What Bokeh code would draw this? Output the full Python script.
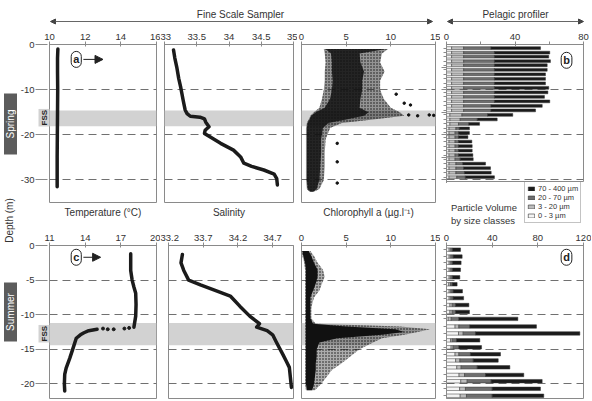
import math
from bokeh.plotting import figure
from bokeh.layouts import row, column
from bokeh.models import (Range1d, FixedTicker, CustomJSTickFormatter, Label, Title,
                          BoxAnnotation, Arrow, NormalHead, Legend, LegendItem,
                          ColumnDataSource, LinearAxis)
from bokeh.embed import file_html
from bokeh.resources import INLINE

NAN = float("nan")
FONT = "Liberation Sans"
TXT = "#333333"
AXC = "#8a8a8a"
DARK = "#1b1b1b"
BAND = "#d2d2d2"
BAR_COLORS = ["#f4f4f4", "#bdbdbd", "#6e6e6e", "#1b1b1b"]
SIZE_CLASSES = ["0 - 3 µm", "3 - 20 µm", "20 - 70 µm", "70 - 400 µm"]

# ---------------- Spring : Fine Scale Sampler ----------------
spring_temp_depth = [-1.0, -3.0, -6.0, -10.0, -15.0, -20.0, -25.0, -31.5]
spring_temp = [10.47, 10.45, 10.45, 10.46, 10.45, 10.44, 10.43, 10.43]

spring_sal_depth = [-1.2, -3.0, -5.0, -7.5, -9.4, -12.4, -14.5, -15.3, -15.9, -16.1, -16.5,
                    -17.2, -18.2, -19.0, -19.7, -20.5, -21.9, -23.4, -24.9, -26.3, -27.0,
                    -27.8, -28.7, -29.7, -31.1]
spring_sal = [33.14, 33.16, 33.19, 33.22, 33.25, 33.29, 33.32, 33.35, 33.40, 33.55, 33.62,
              33.64, 33.69, 33.63, 33.62, 33.71, 33.87, 34.07, 34.18, 34.23, 34.35,
              34.54, 34.70, 34.74, 34.75]

spring_chl_depth = [-1.0, -2.0, -4.0, -6.0, -8.0, -10.0, -12.0, -14.0, -15.0, -15.8, -16.6,
                    -17.4, -18.5, -21.0, -24.0, -27.0, -30.0, -32.0, -32.6]
spring_chl_outer_lo = [2.5, 2.6, 2.7, 2.6, 2.6, 2.5, 2.3, 2.0, 1.4, 1.0, 0.8, 0.6, 0.5, 0.5,
                       0.5, 0.5, 0.5, 0.6, 0.9]
spring_chl_outer_hi = [9.7, 9.0, 8.8, 9.3, 8.8, 8.8, 9.2, 10.0, 11.0, 11.5, 8.0, 4.5, 3.2, 2.7,
                       2.6, 2.6, 2.5, 2.0, 1.4]
spring_chl_core_lo = [2.7, 3.3, 3.4, 3.4, 3.5, 3.4, 3.2, 2.6, 1.6, 1.1, 0.9, 0.7, 0.6, 0.6,
                      0.6, 0.6, 0.6, 0.7, 1.0]
spring_chl_core_hi = [9.5, 6.5, 6.6, 7.0, 6.8, 6.8, 6.6, 6.5, 7.5, 7.0, 5.0, 3.0, 2.4, 2.2,
                      2.2, 2.1, 2.0, 1.7, 1.3]
spring_chl_out_x = [10.6, 11.5, 12.2, 12.0, 13.0, 14.3, 14.8, 4.0, 4.0, 4.0]
spring_chl_out_y = [-11.0, -13.0, -13.4, -15.6, -15.8, -15.6, -15.7, -21.9, -26.0, -30.7]

# ---------------- Spring : Pelagic profiler ----------------
spring_bar_depth = [-0.8, -1.8, -2.7, -3.7, -4.6, -5.6, -6.6, -7.6, -8.6, -9.6, -10.6, -11.6,
                    -12.6, -13.6, -14.6, -15.6, -16.6, -17.6, -18.6, -19.6, -20.5, -21.5,
                    -22.5, -23.5, -24.5, -25.4, -26.4, -27.4, -28.4, -29.4]
spring_0_3 = [3, 3, 3, 3, 3, 3, 3, 3, 3, 3, 3, 3, 3, 3, 3, 2, 2, 2, 1.5, 1.5, 1.5, 1.5, 1.5,
              1.5, 1.5, 1.5, 1.5, 1.5, 1.5, 1.5]
spring_3_20 = [7, 7, 7, 7, 7, 7, 7, 7, 7, 7, 7, 7, 7, 7, 7, 7, 6, 5, 4, 3.5, 3.5, 3.5, 3.5,
               3.5, 3.5, 3.5, 4, 4, 4, 4.5]
spring_20_70 = [16, 18, 18, 18, 18, 18, 18, 18, 18, 18, 18, 18, 18, 16, 16, 15, 10, 6, 2, 2,
                2, 2, 2, 2, 2, 3, 4, 4.5, 5, 5]
spring_70_400 = [28.9, 32.3, 31.7, 32.7, 30.8, 30.8, 29.8, 29.8, 29.8, 31.7, 31.2, 29.2, 32.3,
                 29.9, 26.0, 14.7, 11.6, 6.3, 5.9, 6.4, 5.5, 7.8, 8.0, 8.0, 8.4, 7.6, 13.3,
                 15.7, 15.6, 17.0]

# ---------------- Summer : Fine Scale Sampler ----------------
summer_temp_depth = [-1.2, -3.6, -5.0, -6.0, -6.9, -8.5, -10.2, -11.8, NAN, -12.1, -12.3,
                     -12.6, -12.9, -13.4, -14.9, -16.3, -17.7, -18.6, -20.0, -21.0]
summer_temp = [17.83, 17.83, 17.95, 18.1, 18.25, 18.28, 18.25, 18.1, NAN, 15.0, 14.3, 13.9,
               13.6, 13.25, 12.97, 12.7, 12.4, 12.28, 12.25, 12.28]
summer_temp_dot_depth = [-11.9, -12.0, -12.1, -12.1, -12.0]
summer_temp_dot = [17.7, 17.3, 16.4, 15.9, 15.5]

summer_sal_depth = [-1.3, -2.5, -3.6, -5.0, -5.7, -6.6, -7.3, -8.8, -10.2, -11.3, -11.8,
                    -12.3, -12.9, -13.9, -15.8, -16.8, -17.6, -20.5]
summer_sal = [33.40, 33.38, 33.42, 33.49, 33.66, 33.90, 34.09, 34.23, 34.37, 34.51, 34.47,
              34.62, 34.70, 34.75, 34.85, 34.90, 34.94, 34.97]

summer_chl_depth = [-0.8, -1.5, -2.5, -3.5, -4.5, -5.5, -6.5, -7.5, -9.0, -10.5, -11.3, -11.7,
                    -12.1, -12.5, -12.9, -13.4, -14.0, -15.0, -16.0, -17.0, -18.0, -19.0,
                    -20.0, -20.9]
summer_chl_outer_lo = [0.0, 0.1, 0.3, 0.4, 0.4, 0.4, 0.4, 0.4, 0.4, 0.4, 0.4, 0.4, 0.4, 0.4,
                       0.4, 0.4, 0.4, 0.4, 0.4, 0.4, 0.4, 0.4, 0.4, 0.5]
summer_chl_outer_hi = [1.0, 1.4, 1.8, 2.4, 2.6, 2.3, 2.0, 1.4, 1.1, 1.1, 1.6, 11.0, 14.4, 13.0,
                       11.5, 9.0, 8.0, 6.5, 5.5, 4.5, 3.4, 2.8, 2.2, 1.5]
summer_chl_core_lo = [0.1, 0.2, 0.4, 0.5, 0.5, 0.5, 0.5, 0.5, 0.5, 0.5, 0.5, 0.5, 0.5, 0.5,
                      0.5, 0.5, 0.5, 0.5, 0.5, 0.5, 0.5, 0.5, 0.5, 0.6]
summer_chl_core_hi = [0.8, 1.1, 1.4, 1.8, 1.8, 1.6, 1.3, 1.0, 1.0, 1.0, 1.3, 5.0, 10.5, 11.5,
                      9.0, 4.0, 2.0, 1.7, 1.7, 1.6, 1.6, 1.5, 1.4, 1.2]

# ---------------- Summer : Pelagic profiler ----------------
summer_bar_depth = [-0.6, -1.6, -2.5, -3.5, -4.6, -5.6, -6.6, -7.6, -8.6, -9.6, -10.6, -11.7,
                    -12.7, -13.7, -14.7, -15.7, -16.6, -17.6, -18.7, -19.6, -20.7, -21.7]
summer_0_3 = [2.3, 2.3, 2.3, 2.3, 2.3, 2.0, 2.3, 2.3, 3.0, 3.0, 1.5, 7.5, 10.5, 3.5, 4.0, 7.5,
              8.0, 9.0, 11.0, 12.5, 11.5, 12.0]
summer_3_20 = [1.5, 1.5, 1.5, 1.5, 1.5, 1.5, 1.5, 1.5, 2.0, 2.0, 2.6, 3.3, 4.1, 1.5, 1.8, 3.3,
               3.7, 3.8, 4.8, 5.6, 5.1, 5.5]
summer_20_70 = [1.5, 2.0, 1.5, 1.5, 1.5, 1.5, 2.0, 2.0, 3.0, 3.0, 6.7, 9.6, 10.8, 3.8, 5.0,
                10.2, 11.7, 14.1, 18.4, 21.0, 23.4, 22.5]
summer_70_400 = [7.0, 7.9, 7.5, 7.0, 6.4, 4.3, 8.2, 9.2, 11.6, 12.1, 51.7, 58.4, 91.4, 20.4,
                 19.9, 26.3, 21.9, 28.6, 33.5, 44.7, 42.3, 45.2]

# FSS sampling layers (depth m)
fss_spring = (-14.6, -18.1)
fss_summer = (-11.2, -14.4)


# ---------------- helpers ----------------
def style_axis(ax):
    ax.axis_line_color = AXC
    ax.major_tick_line_color = AXC
    ax.minor_tick_line_color = AXC
    ax.major_tick_in = 2
    ax.major_tick_out = 3
    ax.minor_tick_in = 0
    ax.minor_tick_out = 3
    ax.major_label_text_font = FONT
    ax.major_label_text_font_size = "9.5px"
    ax.major_label_text_color = TXT
    ax.major_label_standoff = 2


def panel(w, h, xr, yr, bl, br, bt, bb, xticks, xminor=(), yticks=None, grid=(), title=None,
          fss=None):
    p = figure(width=w, height=h, x_range=Range1d(*xr), y_range=Range1d(*yr),
               x_axis_location="above",
               y_axis_location="left" if yticks is not None else None,
               output_backend="svg", toolbar_location=None,
               min_border_left=bl, min_border_right=br, min_border_top=bt,
               min_border_bottom=bb)
    p.outline_line_color = AXC
    p.background_fill_color = "white"
    p.border_fill_color = "white"
    p.xgrid.visible = False
    p.ygrid.ticker = FixedTicker(ticks=list(grid))
    p.ygrid.grid_line_color = "#707070"
    p.ygrid.grid_line_dash = "8 5"
    p.ygrid.grid_line_width = 1
    xa = p.xaxis[0]
    xa.ticker = FixedTicker(ticks=list(xticks), minor_ticks=list(xminor))
    xa.formatter = CustomJSTickFormatter(code="return String(tick)")
    style_axis(xa)
    if yticks is not None:
        ya = p.yaxis[0]
        ya.ticker = FixedTicker(ticks=list(yticks))
        ya.formatter = CustomJSTickFormatter(code="return String(tick)")
        style_axis(ya)
    if fss is not None:
        # FSS layer tag, sitting between the depth axis and the frame
        text, offset = fss
        t = Title(text=text, align="left", offset=offset, text_font=FONT,
                  text_font_size="8px", text_font_style="bold", text_color="#222222",
                  background_fill_color=BAND, standoff=0, padding=1)
        p.left = [t] + list(p.left)
        ya = p.yaxis[0]
        ya.axis_line_color = None
        ya.major_tick_in = 11
        ya.major_tick_out = 1
        ya.major_label_standoff = 1
    if title is not None:
        ax = LinearAxis(ticker=FixedTicker(ticks=[]), axis_label=title,
                        axis_line_color=None, major_tick_line_color=None,
                        minor_tick_line_color=None, major_tick_out=0, major_tick_in=0,
                        minor_tick_out=0, minor_tick_in=0, major_label_standoff=0,
                        axis_label_standoff=4, axis_label_text_font=FONT,
                        axis_label_text_font_size="10px",
                        axis_label_text_font_style="normal", axis_label_text_color=TXT)
        p.add_layout(ax, "below")
    return p


def lab(p, x, y, text, size="10px", align="center", baseline="middle", color=TXT,
        angle=0.0, bold=False):
    p.add_layout(Label(x=x, y=y, text=text, text_font=FONT, text_font_size=size,
                       text_align=align, text_baseline=baseline, text_color=color,
                       angle=angle, text_font_style="bold" if bold else "normal"))


def circ(p, x, y, text):
    p.add_layout(Label(x=x, y=y, text=text, text_font=FONT, text_font_size="11px",
                       text_font_style="bold", text_align="center", text_baseline="middle",
                       text_color="#222222", border_line_color="#222222",
                       border_line_width=1, background_fill_color="white",
                       padding=2, border_radius=7))


def band(p, rng):
    p.add_layout(BoxAnnotation(top=rng[0], bottom=rng[1], fill_color=BAND, fill_alpha=1.0,
                               line_color=None, level="underlay"))


def arrow(p, x0, x1, y):
    p.add_layout(Arrow(x_start=x0, y_start=y, x_end=x1, y_end=y, line_color="#222222",
                       line_width=1,
                       end=NormalHead(size=8, fill_color="#222222", line_color="#222222")))


def cloud(p, depth, olo, ohi, clo, chi, outer_alpha, core_alpha):
    p.harea(x1=olo, x2=ohi, y=depth, fill_color="#111111", fill_alpha=outer_alpha,
            hatch_pattern="dot", hatch_color="#111111", hatch_scale=3.0, hatch_weight=2.2)
    p.harea(x1=clo, x2=chi, y=depth, fill_color="#111111", fill_alpha=core_alpha)


def bars(p, depth, s0, s1, s2, s3, h):
    src = ColumnDataSource(dict(depth=depth, s0=s0, s1=s1, s2=s2, s3=s3))
    return p.hbar_stack(["s0", "s1", "s2", "s3"], y="depth", height=h, color=BAR_COLORS,
                        line_color="#333333", line_width=0.5, source=src)


# ---------------- top row (Spring) ----------------
LW = 17            # width of the left strip (Spring / Summer / Depth)
TOP_H, BOT_H = 202, 172
yr_top = (-35, 0)
grid_top = [-10, -20, -30]

pa = panel(160 - LW, TOP_H, (10, 16), yr_top, 26, 4, 18, 26, [10, 12, 14, 16],
           yticks=[0, -10, -20, -30], grid=grid_top, title="Temperature (°C)",
           fss=("FSS", 76))
band(pa, fss_spring)
pa.line(spring_temp, spring_temp_depth, line_width=3.5, color=DARK, line_cap="round")
circ(pa, 11.5, -3.3, "a")
arrow(pa, 11.9, 13.0, -3.3)

ps = panel(137, TOP_H, (33, 35), yr_top, 4, 4, 18, 26, [33, 33.5, 34, 34.5, 35],
           grid=grid_top, title="Salinity")
band(ps, fss_spring)
ps.line(spring_sal, spring_sal_depth, line_width=3.5, color=DARK, line_join="round",
        line_cap="round")

pc = panel(143, TOP_H, (0, 15), yr_top, 4, 5, 18, 26, [0, 5, 10, 15], grid=grid_top,
           title="Chlorophyll a (µg.l⁻¹)")
band(pc, fss_spring)
cloud(pc, spring_chl_depth, spring_chl_outer_lo, spring_chl_outer_hi, spring_chl_core_lo,
      spring_chl_core_hi, 0.45, 0.85)
pc.scatter(spring_chl_out_x, spring_chl_out_y, size=2.5, color="#111111")

pb = panel(151, 156, (0, 80), (-30.57, 0), 6, 8, 18, 0, [0, 40, 80], xminor=[20, 60],
           yticks=[0, -5, -10, -15, -20, -25, -30], grid=grid_top)
pb.yaxis.formatter = CustomJSTickFormatter(code="return ''")
pb.yaxis.ticker = FixedTicker(ticks=[-5, -10, -15, -20, -25, -30], minor_ticks=spring_bar_depth)
pb.yaxis.major_tick_in = 0
pb.yaxis.major_tick_out = 5
pb.yaxis.minor_tick_out = 3
pb.yaxis.major_label_standoff = 0
bars(pb, spring_bar_depth, spring_0_3, spring_3_20, spring_20_70, spring_70_400, 0.62)
circ(pb, 70.1, -3.5, "b")

# legend strip under the Pelagic profiler (page coordinates)
leg = figure(width=151, height=46, x_range=Range1d(440, 591), y_range=Range1d(228, 182),
             x_axis_location=None, y_axis_location=None, output_backend="svg",
             toolbar_location=None, min_border=0)
leg.outline_line_color = None
leg.grid.visible = False
lab(leg, 445, 207, "Particle Volume", size="9.5px", align="left")
lab(leg, 445, 220, "by size classes", size="9.5px", align="left")
# legend proxies (zero-length bars outside the strip's visible range)
swatches = [leg.hbar(y=[0], right=[0], height=1, color=c, line_color="#333333",
                     line_width=0.6) for c in BAR_COLORS]
legend = Legend(items=[LegendItem(label=SIZE_CLASSES[i], renderers=[swatches[i]])
                       for i in (3, 2, 1, 0)],
                location=(78, 5), label_text_font=FONT, label_text_font_size="7.5px",
                label_text_color=TXT, glyph_height=5, glyph_width=8, label_height=8,
                label_width=10, label_standoff=3, spacing=0, padding=2, margin=0,
                border_line_color="#888888", border_line_width=0.8,
                background_fill_color="white", background_fill_alpha=1.0)
leg.add_layout(legend)

# ---------------- bottom row (Summer) ----------------
yr_bot = (-22.1, 0)
grid_bot = [-5, -10, -15, -20]

qa = panel(160 - LW, BOT_H, (11, 20), yr_bot, 26, 4, 17, 2, [11, 14, 17, 20],
           yticks=[0, -5, -10, -15, -20], grid=grid_bot, fss=("FSS", 56))
band(qa, fss_summer)
qa.line(summer_temp, summer_temp_depth, line_width=3.5, color=DARK, line_join="round",
        line_cap="round")
qa.scatter(summer_temp_dot, summer_temp_dot_depth, size=3, color=DARK)
circ(qa, 13.25, -1.7, "c")
arrow(qa, 13.85, 15.3, -1.7)

qs = panel(137, BOT_H, (33.2, 35.0), yr_bot, 8, 4, 17, 2, [33.2, 33.7, 34.2, 34.7],
           grid=grid_bot)
band(qs, fss_summer)
qs.line(summer_sal, summer_sal_depth, line_width=3.5, color=DARK, line_join="round",
        line_cap="round")

qc = panel(143, BOT_H, (0, 15), yr_bot, 4, 5, 17, 2, [0, 5, 10, 15], grid=grid_bot)
band(qc, fss_summer)
cloud(qc, summer_chl_depth, summer_chl_outer_lo, summer_chl_outer_hi, summer_chl_core_lo,
      summer_chl_core_hi, 0.35, 1.0)

qd = panel(151, BOT_H, (0, 120), yr_bot, 6, 8, 17, 2, [0, 40, 80, 120],
           yticks=[0, -5, -10, -15, -20], grid=grid_bot)
qd.yaxis.formatter = CustomJSTickFormatter(code="return ''")
qd.yaxis.ticker = FixedTicker(ticks=[-5, -10, -15, -20], minor_ticks=summer_bar_depth)
qd.yaxis.major_tick_in = 0
qd.yaxis.major_tick_out = 5
qd.yaxis.minor_tick_out = 3
qd.yaxis.major_label_standoff = 0
bars(qd, summer_bar_depth, summer_0_3, summer_3_20, summer_20_70, summer_70_400, 0.5)
circ(qd, 105.1, -1.7, "d")

# ---------------- header and left strip (page coordinates) ----------------
hdr = figure(width=591 - LW, height=26, x_range=Range1d(LW, 591), y_range=Range1d(26, 0),
             x_axis_location=None, y_axis_location=None, output_backend="svg",
             toolbar_location=None, min_border=0)
hdr.outline_line_color = None
hdr.grid.visible = False
lab(hdr, 240, 14, "Fine Scale Sampler")
lab(hdr, 515, 14, "Pelagic profiler")
for x0, x1 in ((50, 432), (447, 583)):
    hdr.add_layout(Arrow(x_start=x0, y_start=21, x_end=x1, y_end=21, line_color="#666666",
                         line_width=1,
                         start=NormalHead(size=5, fill_color="#444444", line_color="#444444"),
                         end=NormalHead(size=5, fill_color="#444444", line_color="#444444")))

left = figure(width=LW, height=400, x_range=Range1d(0, LW), y_range=Range1d(400, 0),
              x_axis_location=None, y_axis_location=None, output_backend="svg",
              toolbar_location=None, min_border=0)
left.outline_line_color = None
left.grid.visible = False
left.add_layout(BoxAnnotation(left=3.5, right=16.5, top=93, bottom=154, fill_color="#5c5c5c",
                              fill_alpha=1.0, line_color=None))
left.add_layout(BoxAnnotation(left=3.5, right=16.5, top=282, bottom=341, fill_color="#5c5c5c",
                              fill_alpha=1.0, line_color=None))
lab(left, 10, 123.5, "Spring", color="white", angle=math.pi / 2)
lab(left, 10, 311.5, "Summer", color="white", angle=math.pi / 2)
lab(left, 9, 220, "Depth (m)", angle=math.pi / 2)

layout = row(left, column(hdr, row(pa, ps, pc, column(pb, leg)), row(qa, qs, qc, qd)))

open("out.html", "w").write(file_html(layout, INLINE))
